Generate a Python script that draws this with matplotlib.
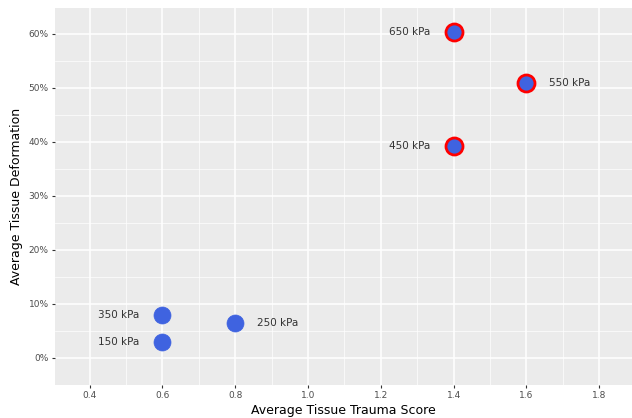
import matplotlib
import matplotlib.pyplot as plt
from matplotlib.ticker import PercentFormatter, MultipleLocator

# ── data ─────────────────────────────────────────────
pressure = ['150 kPa', '250 kPa', '350 kPa', '450 kPa', '550 kPa', '650 kPa']
trauma = [0.6, 0.8, 0.6, 1.4, 1.6, 1.4]
deform = [0.03, 0.065, 0.079, 0.393, 0.509, 0.604]
high = [False, False, False, True, True, True]
label_side = ['left', 'right', 'left', 'left', 'right', 'left']

matplotlib.rcParams['font.family'] = ['DejaVu Sans']

fig = plt.figure(figsize=(6.32, 4.18), dpi=100)
ax = fig.add_axes([0.087, 0.079, 0.913, 0.902])
ax.set_facecolor('#EBEBEB')
for s in ax.spines.values():
    s.set_visible(False)

ax.set_xlim(0.305, 1.89)
ax.set_ylim(-0.05, 0.648)
ax.xaxis.set_major_locator(MultipleLocator(0.2))
ax.xaxis.set_minor_locator(MultipleLocator(0.1))
ax.yaxis.set_major_locator(MultipleLocator(0.1))
ax.yaxis.set_minor_locator(MultipleLocator(0.05))
ax.yaxis.set_major_formatter(PercentFormatter(1.0, decimals=0))
ax.xaxis.set_major_formatter(matplotlib.ticker.FormatStrFormatter('%.1f'))

ax.grid(which='major', color='white', lw=1.1)
ax.grid(which='minor', color='white', lw=0.5)
ax.set_axisbelow(True)
ax.tick_params(which='major', length=2.5, color='#333333', labelsize=6.5,
               labelcolor='#4D4D4D', pad=2)
ax.tick_params(which='minor', length=0)

# 高压组用红色描边
for x, y, hp, lab, side in zip(trauma, deform, high, pressure, label_side):
    ax.scatter(x, y, s=150, color='#3F63E0',
               edgecolors='#FF0000' if hp else '#3F63E0',
               linewidths=2 if hp else 0.5, zorder=3)
    dx = -17 if side == 'left' else 16
    ax.annotate(lab, (x, y), xytext=(dx, 0), textcoords='offset points',
                ha='right' if side == 'left' else 'left', va='center',
                fontsize=7.5, color='#333333')

ax.set_xlabel('Average Tissue Trauma Score', fontsize=9, labelpad=3)
ax.set_ylabel('Average Tissue Deformation', fontsize=9, labelpad=4)

plt.savefig('out.png', dpi=100)
plt.close()
